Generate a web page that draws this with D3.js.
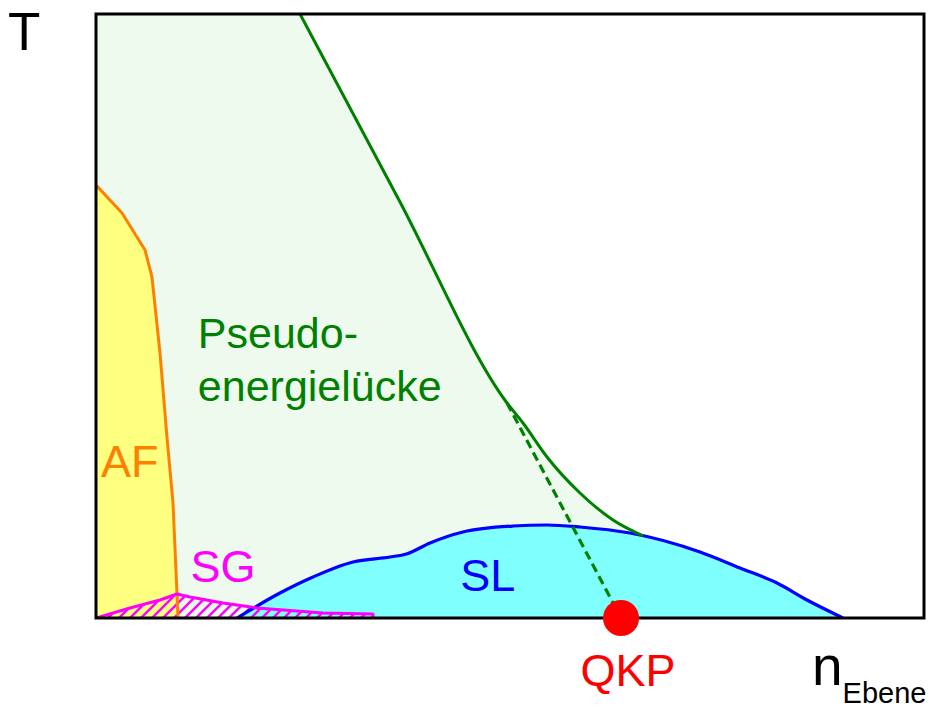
<!DOCTYPE html>
<html>
<head>
<meta charset="utf-8">
<script src="https://cdn.jsdelivr.net/npm/d3@7"></script>
<style>
  html, body { margin: 0; padding: 0; background: #fff; }
  svg { display: block; }
  text { font-family: "Liberation Sans", Arial, Helvetica, sans-serif; }
</style>
</head>
<body>
<svg id="chart" width="935" height="709"></svg>
<script>
// Schematic phase diagram: temperature T versus in-plane carrier density n (arbitrary units 0..100)

// Antiferromagnet (AF) boundary
const afN = [0, 3.14, 5.92, 6.76, 7.73, 8.57, 9.30, 9.78, 9.90];
const afT = [71.7, 67.05, 60.93, 56.46, 43.87, 29.97, 19.04, 4.14, 0];

// Pseudogap crossover line
const pgN = [24.64, 36.59, 49.64, 51.57, 54.47, 58.45, 62.44, 66.06];
const pgT = [100, 69.21, 35.60, 32.28, 26.66, 20.70, 16.23, 13.6];

// Straight continuation of the pseudogap line under the dome, ending at the QCP
const qcpN = 63.41;
const dashN = [49.64, qcpN];
const dashT = [35.60, 0];

// Superconducting (SL) dome
const scN = [17.03, 22.22, 26.21, 31.04, 35.51, 37.5, 40.34, 44.32, 50.36, 54.47, 58.45, 64.49, 72.95, 77.78, 82.25, 85.87, 90.22];
const scT = [0, 4.14, 6.79, 9.27, 10.10, 10.6, 12.42, 14.24, 15.23, 15.40, 15.07, 14.07, 10.93, 8.28, 5.79, 2.98, 0];

// Spin glass (SG) region
const sgN = [0, 4.11, 7.73, 9.78, 11.35, 15.34, 19.44, 27.42, 33.45, 33.45];
const sgT = [0, 1.66, 2.98, 3.97, 3.48, 2.48, 1.66, 0.83, 0.66, 0];

const zip = (a, b) => a.map((v, i) => [v, b[i]]);

const svg = d3.select("#chart");
const x = d3.scaleLinear().domain([0, 100]).range([96, 924]);
const y = d3.scaleLinear().domain([0, 100]).range([618, 14]);

const defs = svg.append("defs");
defs.append("clipPath").attr("id", "frameClip")
  .append("rect")
  .attr("x", x(0)).attr("y", y(100))
  .attr("width", x(100) - x(0)).attr("height", y(0) - y(100));

const hatch = defs.append("pattern")
  .attr("id", "hatch")
  .attr("patternUnits", "userSpaceOnUse")
  .attr("width", 11).attr("height", 11);
hatch.append("path")
  .attr("d", "M0,11 L11,0 M-3,3 L3,-3 M8,14 L14,8")
  .attr("stroke", "#ff00ff").attr("stroke-width", 2.4).attr("fill", "none");

const g = svg.append("g").attr("clip-path", "url(#frameClip)");

const lineLin = d3.line().x(d => x(d[0])).y(d => y(d[1]));
const lineMono = d3.line().x(d => x(d[0])).y(d => y(d[1])).curve(d3.curveMonotoneX);

const afPts = zip(afN, afT);
const pgPts = zip(pgN, pgT);
const scPts = zip(scN, scT);
const sgPts = zip(sgN, sgT);

// Pseudogap region fill
const pgPath = lineMono(pgPts);
const last = pgPts[pgPts.length - 1];
g.append("path")
  .attr("d", `M${x(0)},${y(100)}L${pgPath.slice(1)}L${x(last[0])},${y(0)}L${x(0)},${y(0)}Z`)
  .attr("fill", "#edfaed");

// AF region fill
const afPath = lineLin(afPts);
g.append("path")
  .attr("d", `${afPath}L${x(0)},${y(0)}Z`)
  .attr("fill", "#ffff80");

// Superconducting dome fill
const scPath = lineMono(scPts);
g.append("path")
  .attr("d", `${scPath}Z`)
  .attr("fill", "#80ffff");

// Spin glass hatch
g.append("path")
  .attr("d", `${lineLin(sgPts)}Z`)
  .attr("fill", "url(#hatch)");

// Boundary lines
g.append("path").attr("d", afPath)
  .attr("fill", "none").attr("stroke", "#ff8000").attr("stroke-width", 3)
  .attr("stroke-linejoin", "round");

g.append("path").attr("d", scPath)
  .attr("fill", "none").attr("stroke", "#0000ff").attr("stroke-width", 3.2);

g.append("path").attr("d", pgPath)
  .attr("fill", "none").attr("stroke", "#008000").attr("stroke-width", 3);

g.append("path").attr("d", lineLin(zip(dashN, dashT)))
  .attr("fill", "none").attr("stroke", "#008000").attr("stroke-width", 3.2)
  .attr("stroke-dasharray", "9,5");

g.append("path").attr("d", lineLin(sgPts))
  .attr("fill", "none").attr("stroke", "#ff00ff").attr("stroke-width", 3)
  .attr("stroke-linejoin", "round");

// Frame
svg.append("rect")
  .attr("x", x(0)).attr("y", y(100))
  .attr("width", x(100) - x(0)).attr("height", y(0) - y(100))
  .attr("fill", "none").attr("stroke", "#000").attr("stroke-width", 3);

// Quantum critical point
svg.append("circle")
  .attr("cx", x(qcpN)).attr("cy", y(0)).attr("r", 18)
  .attr("fill", "#ff0000");

// Labels
const label = (txt, px, py, size, color) =>
  svg.append("text").attr("x", px).attr("y", py)
    .attr("font-size", size).attr("fill", color).text(txt);

label("Pseudo-", x(12.3), y(44.7), 43, "#008000");
label("energielücke", x(12.3), y(36.0), 43, "#008000");
label("AF", x(0.6), y(23.3), 45, "#ff8000");
label("SG", x(11.4), y(6.0), 45, "#ff00ff");
label("SL", x(44.0), y(4.5), 45, "#0000ff");
label("QKP", x(58.5), 686, 45, "#ff0000");

label("T", 8, 50, 53, "#000");
const nl = svg.append("text").attr("x", 812).attr("y", 685).attr("font-size", 55).attr("fill", "#000");
nl.append("tspan").text("n");
nl.append("tspan").attr("font-size", 29).attr("dy", 18).text("Ebene");
</script>
</body>
</html>
